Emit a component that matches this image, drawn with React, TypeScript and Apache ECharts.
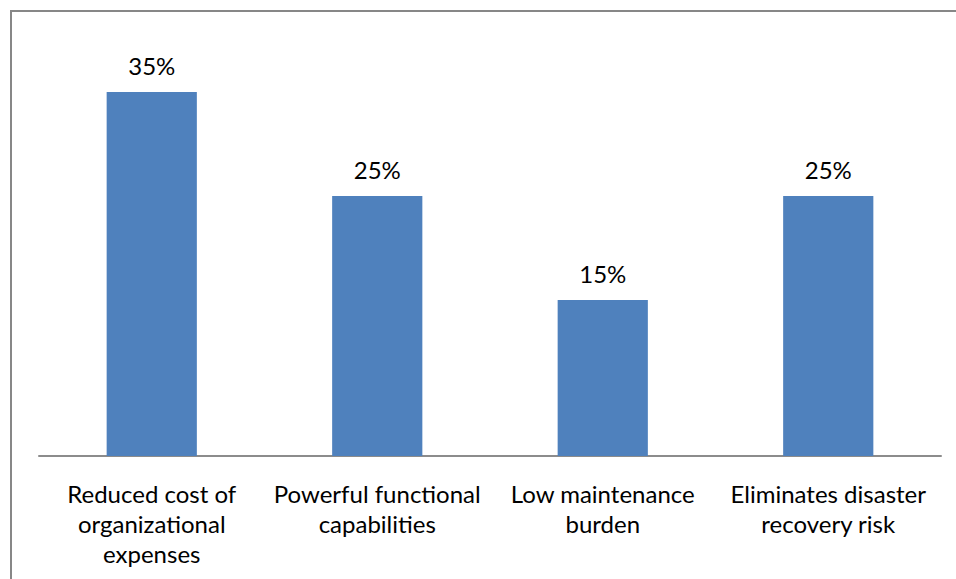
import React, { useEffect, useRef } from "react";
import * as echarts from "echarts";

const categories = [
  "Reduced cost of\norganizational\nexpenses",
  "Powerful functional\ncapabilities",
  "Low maintenance\nburden",
  "Eliminates disaster\nrecovery risk",
];
const values = [35, 25, 15, 25];

export default function App() {
  const ref = useRef<HTMLDivElement>(null);
  useEffect(() => {
    const chart = echarts.init(ref.current!, null, { renderer: "svg" });
    chart.setOption({
      animation: false,
      backgroundColor: "#ffffff",
      textStyle: { fontFamily: "Lato" },
      graphic: [
        {
          type: "rect",
          shape: { x: 11, y: 11, width: 1000, height: 700 },
          style: { fill: "none", stroke: "#878787", lineWidth: 2 },
          silent: true,
        },
      ],
      grid: { left: 39, right: 15, top: 40, bottom: 123 },
      xAxis: {
        type: "category",
        data: categories,
        axisLine: { lineStyle: { color: "#8c8c8c", width: 2 } },
        axisTick: { show: false },
        axisLabel: {
          color: "#000000",
          fontSize: 24,
          lineHeight: 30,
          margin: 22,
          interval: 0,
          fontFamily: "Lato",
        },
      },
      yAxis: {
        type: "value",
        min: 0,
        max: 40,
        show: false,
        splitLine: { show: false },
      },
      series: [
        {
          type: "bar",
          data: values,
          barWidth: "40%",
          itemStyle: { color: "#4f81bd" },
          label: {
            show: true,
            position: "top",
            distance: 15,
            formatter: "{c}%",
            color: "#000000",
            fontSize: 24,
            fontFamily: "Lato",
          },
        },
      ],
    });
    return () => chart.dispose();
  }, []);
  return (
    <div
      ref={ref}
      style={{ position: "fixed", left: 0, top: 0, width: 956, height: 579 }}
    />
  );
}
